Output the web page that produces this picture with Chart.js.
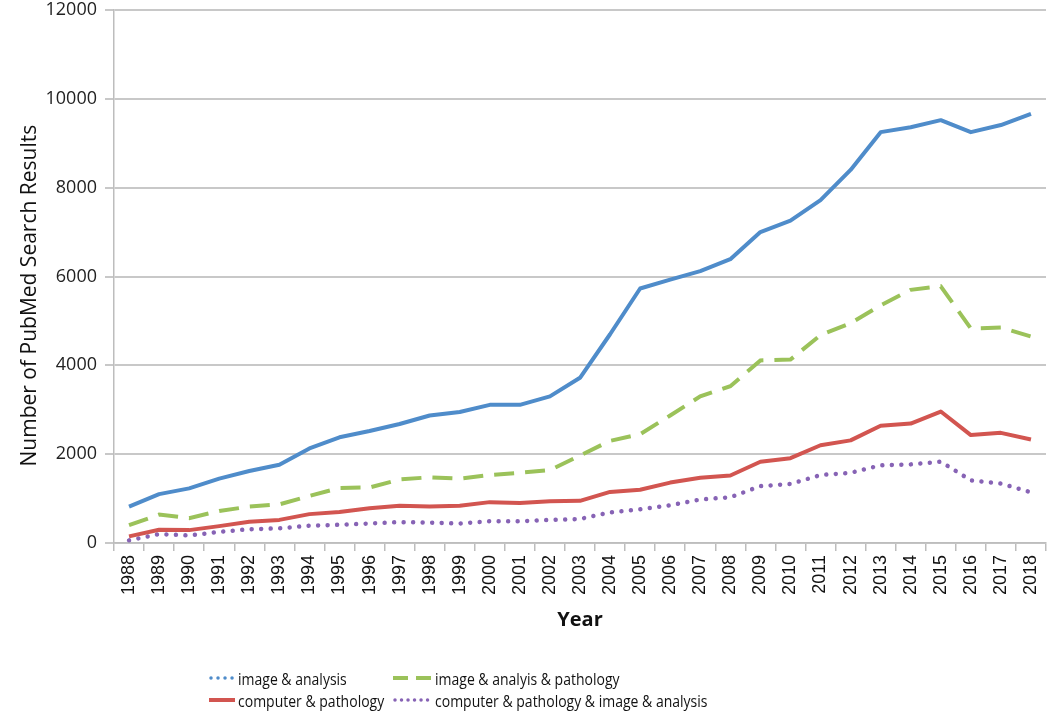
<!DOCTYPE html>
<html>
<head>
<meta charset="utf-8">
<script src="https://cdn.jsdelivr.net/npm/chart.js@4.4.0/dist/chart.umd.min.js"></script>
<style>
  html, body { margin: 0; padding: 0; background: #fff; }
  #wrap { position: relative; width: 1050px; height: 712px; }
  #legend {
    position: absolute; left: 209px; top: 667px;
    display: grid; grid-template-columns: 184px auto;
    font-family: "Open Sans", sans-serif; font-size: 14px; color: #111;
  }
  .item { display: flex; align-items: center; height: 22px; white-space: nowrap; }
  .item span { display: inline-block; transform: scaleY(1.12); }
  .item canvas { margin-right: 3px; }
</style>
</head>
<body>
<div id="wrap">
  <canvas id="chart" width="1050" height="712"></canvas>
  <div id="legend"></div>
</div>
<script>
const years = ['1988', '1989', '1990', '1991', '1992', '1993', '1994', '1995', '1996', '1997',
  '1998', '1999', '2000', '2001', '2002', '2003', '2004', '2005', '2006', '2007',
  '2008', '2009', '2010', '2011', '2012', '2013', '2014', '2015', '2016', '2017', '2018'];

const imageAnalysis = [820, 1100, 1230, 1450, 1620, 1760, 2130, 2380, 2520, 2680,
  2870, 2950, 3110, 3110, 3300, 3720, 4700, 5730, 5930, 6120,
  6390, 7000, 7260, 7720, 8400, 9250, 9360, 9520, 9250, 9410, 9660];

const imageAnalysisPathology = [400, 640, 560, 720, 820, 870, 1060, 1240, 1250, 1430,
  1480, 1450, 1530, 1580, 1640, 1970, 2300, 2450, 2870, 3300,
  3530, 4110, 4130, 4680, 4950, 5350, 5700, 5780, 4830, 4850, 4650];

const computerPathology = [150, 300, 290, 380, 480, 520, 650, 700, 780, 840,
  820, 840, 920, 900, 940, 950, 1150, 1200, 1360, 1470,
  1520, 1830, 1910, 2200, 2310, 2640, 2690, 2960, 2430, 2480, 2330];

const allFour = [60, 200, 170, 250, 310, 330, 390, 410, 440, 470,
  460, 440, 490, 490, 520, 540, 690, 760, 850, 980,
  1030, 1280, 1330, 1530, 1580, 1750, 1770, 1830, 1410, 1340, 1140];

const seriesNames = ['image & analysis', 'image & analyis & pathology',
  'computer & pathology', 'computer & pathology & image & analysis'];
const yTicks = [0, 2000, 4000, 6000, 8000, 10000, 12000];

const blue = '#4f8cca';
const green = '#9bc25a';
const red = '#d25550';
const purple = '#8763b5';

const ctx = document.getElementById('chart');

new Chart(ctx, {
    type: 'line',
    data: {
        labels: years,
        datasets: [
            {
                label: seriesNames[0],
                data: imageAnalysis,
                borderColor: blue,
                borderWidth: 4,
                pointRadius: 0,
                borderJoinStyle: 'round'
            },
            {
                label: seriesNames[1],
                data: imageAnalysisPathology,
                borderColor: green,
                borderWidth: 4,
                pointRadius: 0,
                borderDash: [20, 11]
            },
            {
                label: seriesNames[2],
                data: computerPathology,
                borderColor: red,
                borderWidth: 4,
                pointRadius: 0,
                borderJoinStyle: 'round'
            },
            {
                label: seriesNames[3],
                data: allFour,
                borderColor: purple,
                borderWidth: 4.5,
                pointRadius: 0,
                borderCapStyle: 'round',
                borderDash: [0.01, 9.5]
            }
        ]
    },
    options: {
        responsive: false,
        animation: false,
        layout: {
            padding: { top: 10, right: 4, bottom: 72, left: 0 }
        },
        plugins: {
            legend: { display: false },
            tooltip: { enabled: false }
        },
        scales: {
            x: {
                offset: true,
                grid: {
                    offset: true,
                    drawOnChartArea: false,
                    color: '#bdbdbd',
                    lineWidth: 1.5,
                    tickLength: 8
                },
                border: { color: '#bdbdbd', width: 1.5 },
                ticks: {
                    autoSkip: false,
                    maxRotation: 90,
                    minRotation: 90,
                    color: '#111',
                    padding: 4,
                    font: { family: 'Liberation Sans', size: 18 }
                },
                title: {
                    display: true,
                    text: 'Year',
                    color: '#111',
                    font: { family: 'Open Sans', size: 20, weight: 'bold' },
                    padding: { top: 4, bottom: 8 }
                },
                afterFit: function (scale) {
                    scale.height = 97;
                    scale.paddingRight = 0;
                }
            },
            y: {
                min: 0,
                max: 12000,
                afterBuildTicks: function (scale) {
                    scale.ticks = yTicks.map(v => ({ value: v }));
                },
                grid: {
                    color: '#c8c8c8',
                    lineWidth: 2,
                    tickLength: 9
                },
                border: { color: '#bdbdbd', width: 1.5 },
                ticks: {
                    color: '#222',
                    padding: 8,
                    font: { family: 'Open Sans', size: 18 },
                    callback: function (value) { return String(value); }
                },
                title: {
                    display: true,
                    // trailing spaces nudge the rotated title a little lower
                    text: 'Number of PubMed Search Results\u00a0\u00a0\u00a0\u00a0\u00a0\u00a0\u00a0',
                    color: '#111',
                    font: { family: 'Open Sans', size: 21 },
                    padding: { top: 17, bottom: 0 }
                },
                afterFit: function (scale) {
                    scale.width = 114;
                    scale.paddingTop = 0;
                    scale.paddingBottom = 0;
                }
            }
        }
    }
});

// legend below the chart, laid out in two columns
const legendStyles = [
    { color: blue, width: 3.5, dash: [0.01, 7], cap: 'round', len: 26 },
    { color: green, width: 4, dash: [15, 8], cap: 'butt', len: 39 },
    { color: red, width: 4, dash: [], cap: 'butt', len: 26 },
    { color: purple, width: 3.5, dash: [0.01, 6.5], cap: 'round', len: 39 }
];

const legend = document.getElementById('legend');
for (let i = 0; i < seriesNames.length; i++) {
    const st = legendStyles[i];
    const item = document.createElement('div');
    item.className = 'item';
    const c = document.createElement('canvas');
    c.width = st.len;
    c.height = 8;
    const g = c.getContext('2d');
    g.strokeStyle = st.color;
    g.lineWidth = st.width;
    g.lineCap = st.cap;
    g.setLineDash(st.dash);
    g.beginPath();
    g.moveTo(st.cap === 'round' ? 2 : 0, 4);
    g.lineTo(st.len, 4);
    g.stroke();
    item.appendChild(c);
    const t = document.createElement('span');
    t.textContent = seriesNames[i];
    item.appendChild(t);
    legend.appendChild(item);
}
</script>
</body>
</html>
